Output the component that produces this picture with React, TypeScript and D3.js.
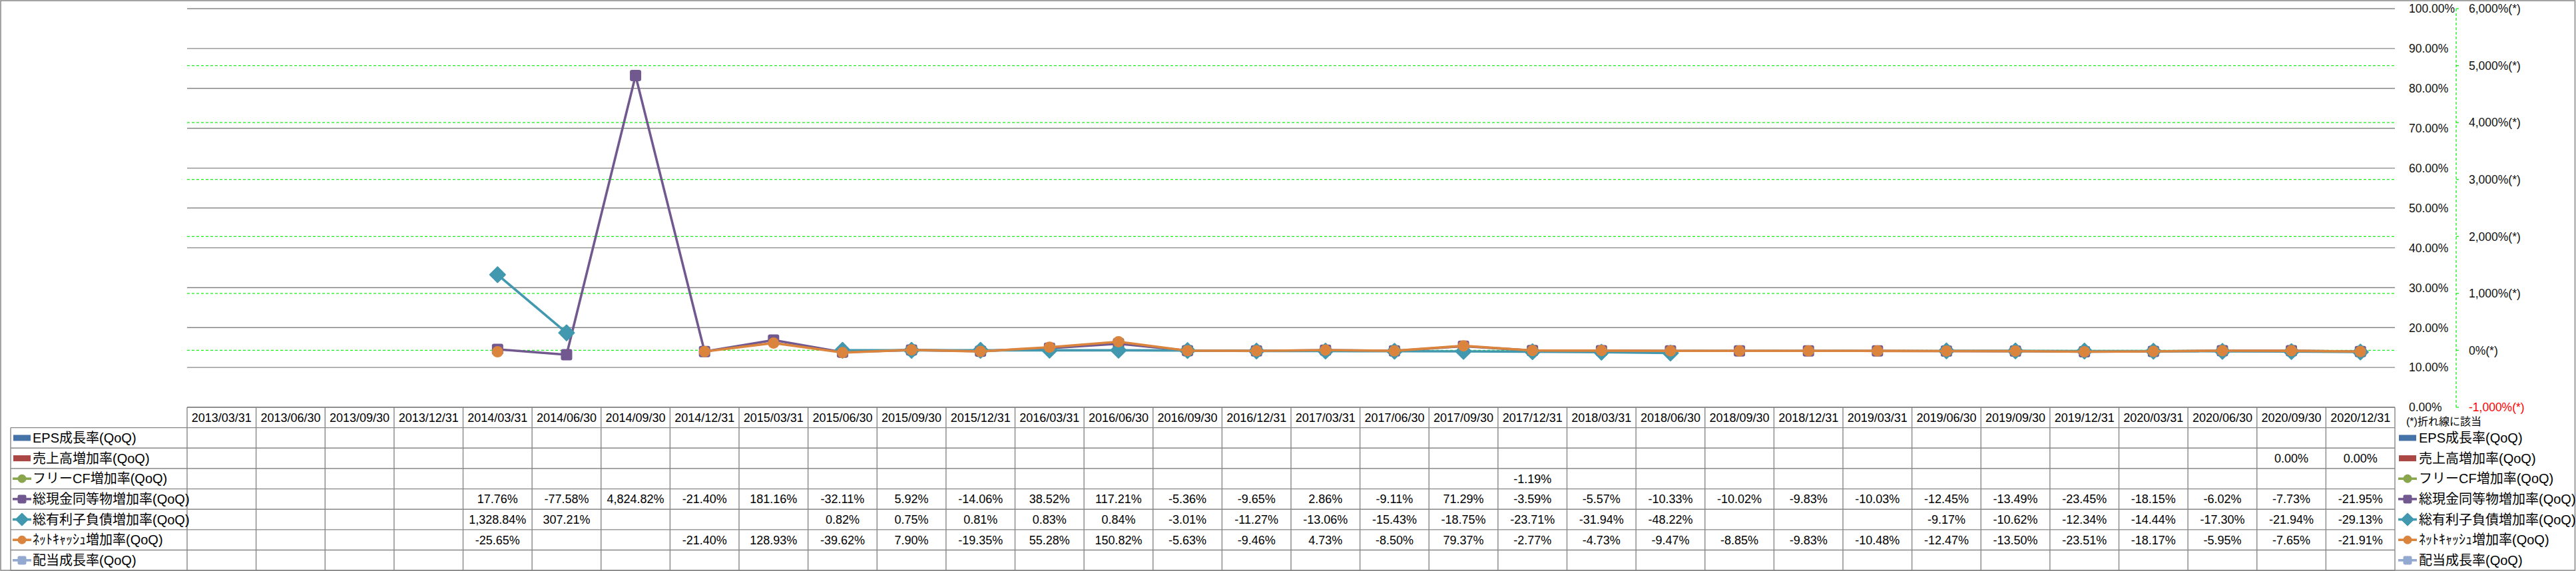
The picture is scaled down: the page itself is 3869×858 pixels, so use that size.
import { useEffect, useRef } from 'react';
import * as d3 from 'd3';

const W = 3869;
const H = 858;

// quarter labels along the bottom
const quarters = [
  '2013/03/31', '2013/06/30', '2013/09/30', '2013/12/31',
  '2014/03/31', '2014/06/30', '2014/09/30', '2014/12/31',
  '2015/03/31', '2015/06/30', '2015/09/30', '2015/12/31',
  '2016/03/31', '2016/06/30', '2016/09/30', '2016/12/31',
  '2017/03/31', '2017/06/30', '2017/09/30', '2017/12/31',
  '2018/03/31', '2018/06/30', '2018/09/30', '2018/12/31',
  '2019/03/31', '2019/06/30', '2019/09/30', '2019/12/31',
  '2020/03/31', '2020/06/30', '2020/09/30', '2020/12/31',
];

// growth rates in %, null = blank cell
const epsGrowth = [
  null, null, null, null, null, null, null, null,
  null, null, null, null, null, null, null, null,
  null, null, null, null, null, null, null, null,
  null, null, null, null, null, null, null, null,
];
const salesGrowth = [
  null, null, null, null, null, null, null, null,
  null, null, null, null, null, null, null, null,
  null, null, null, null, null, null, null, null,
  null, null, null, null, null, null, 0.0, 0.0,
];
const fcfGrowth = [
  null, null, null, null, null, null, null, null,
  null, null, null, null, null, null, null, null,
  null, null, null, -1.19, null, null, null, null,
  null, null, null, null, null, null, null, null,
];
const cashGrowth = [
  null, null, null, null, 17.76, -77.58, 4824.82, -21.40,
  181.16, -32.11, 5.92, -14.06, 38.52, 117.21, -5.36, -9.65,
  2.86, -9.11, 71.29, -3.59, -5.57, -10.33, -10.02, -9.83,
  -10.03, -12.45, -13.49, -23.45, -18.15, -6.02, -7.73, -21.95,
];
const debtGrowth = [
  null, null, null, null, 1328.84, 307.21, null, null,
  null, 0.82, 0.75, 0.81, 0.83, 0.84, -3.01, -11.27,
  -13.06, -15.43, -18.75, -23.71, -31.94, -48.22, null, null,
  null, -9.17, -10.62, -12.34, -14.44, -17.30, -21.94, -29.13,
];
const netCashGrowth = [
  null, null, null, null, -25.65, null, null, -21.40,
  128.93, -39.62, 7.90, -19.35, 55.28, 150.82, -5.63, -9.46,
  4.73, -8.50, 79.37, -2.77, -4.73, -9.47, -8.85, -9.83,
  -10.48, -12.47, -13.50, -23.51, -18.17, -5.95, -7.65, -21.91,
];
const dividendGrowth = [
  null, null, null, null, null, null, null, null,
  null, null, null, null, null, null, null, null,
  null, null, null, null, null, null, null, null,
  null, null, null, null, null, null, null, null,
];

const seriesNames = [
  'EPS成長率(QoQ)',
  '売上高増加率(QoQ)',
  'フリーCF増加率(QoQ)',
  '総現金同等物増加率(QoQ)',
  '総有利子負債増加率(QoQ)',
  'ﾈｯﾄｷｬｯｼｭ増加率(QoQ)',
  '配当成長率(QoQ)',
];

const primaryTicks = [0, 0.1, 0.2, 0.3, 0.4, 0.5, 0.6, 0.7, 0.8, 0.9, 1.0];
const secondaryTicks = [-1000, 0, 1000, 2000, 3000, 4000, 5000, 6000];

const FONT = '"Liberation Sans", Arial, "Noto Sans CJK JP", sans-serif';
const GRID = '#878787';
const LIME = '#19f019';

const loc = d3.formatLocale({ decimal: '.', thousands: ',', grouping: [3], currency: ['', ''], minus: '-' });
const cellFmt = (v) => loc.format(',.2f')(v) + '%';
const leftFmt = (v) => loc.format('.2f')(v * 100) + '%';
const rightFmt = (v) => loc.format(',')(v) + '%(*)';

const App = () => {
  const svgRef = useRef(null);

  useEffect(() => {
    const svg = d3.select(svgRef.current);
    svg.selectAll('*').remove();

    const series = [
      { name: seriesNames[0], values: epsGrowth, color: '#4572A7', kind: 'bar' },
      { name: seriesNames[1], values: salesGrowth, color: '#AA4643', kind: 'bar' },
      { name: seriesNames[2], values: fcfGrowth, color: '#89A54E', kind: 'circle' },
      { name: seriesNames[3], values: cashGrowth, color: '#71588F', kind: 'square' },
      { name: seriesNames[4], values: debtGrowth, color: '#4198AF', kind: 'diamond' },
      { name: seriesNames[5], values: netCashGrowth, color: '#DB843D', kind: 'circle' },
      { name: seriesNames[6], values: dividendGrowth, color: '#93A9CF', kind: 'square' },
    ];

    // plot frame
    const left = 281;
    const right = 3597;
    const top = 13;
    const bottom = 612;
    const rowH = 30.65;

    const x = d3.scaleBand().domain(quarters).range([left, right]);
    const yL = d3.scaleLinear().domain([0, 1]).range([bottom, top]);
    const yR = d3.scaleLinear().domain([-1000, 6000]).range([bottom, top]);

    // outer border
    svg.append('rect')
      .attr('x', 1).attr('y', 1)
      .attr('width', W - 2.5).attr('height', H - 2)
      .attr('fill', 'white')
      .attr('stroke', GRID).attr('stroke-width', 1.5);

    // primary gridlines
    svg.append('g')
      .selectAll('line')
      .data(primaryTicks)
      .join('line')
      .attr('x1', left).attr('x2', right)
      .attr('y1', d => yL(d)).attr('y2', d => yL(d))
      .attr('stroke', GRID).attr('stroke-width', 1.4);

    // secondary reference lines (green dashed)
    svg.append('g')
      .selectAll('line')
      .data(secondaryTicks.filter(d => d >= 0 && d < 6000))
      .join('line')
      .attr('x1', left).attr('x2', right)
      .attr('y1', d => yR(d)).attr('y2', d => yR(d))
      .attr('stroke', LIME).attr('stroke-width', 1.3)
      .attr('stroke-dasharray', '4,3');

    // primary axis labels
    svg.append('g')
      .selectAll('text')
      .data(primaryTicks)
      .join('text')
      .attr('x', 3618)
      .attr('y', d => yL(d))
      .attr('dy', '0.36em')
      .style('font-family', FONT)
      .style('font-size', '17.5px')
      .style('fill', '#111')
      .text(d => leftFmt(d));

    // secondary axis
    const axisX = 3689;
    svg.append('line')
      .attr('x1', axisX).attr('x2', axisX)
      .attr('y1', top).attr('y2', bottom)
      .attr('stroke', LIME).attr('stroke-width', 1.3)
      .attr('stroke-dasharray', '4,3');
    svg.append('g')
      .selectAll('line')
      .data(secondaryTicks)
      .join('line')
      .attr('x1', axisX).attr('x2', axisX + 4)
      .attr('y1', d => yR(d)).attr('y2', d => yR(d))
      .attr('stroke', LIME).attr('stroke-width', 1.3);
    svg.append('g')
      .selectAll('text')
      .data(secondaryTicks)
      .join('text')
      .attr('x', 3708)
      .attr('y', d => yR(d))
      .attr('dy', '0.36em')
      .style('font-family', FONT)
      .style('font-size', '17.5px')
      .style('fill', d => (d < 0 ? '#ff0000' : '#111'))
      .text(d => rightFmt(d));

    // marker helper
    const addMarker = (g, kind, cx, cy, size, color) => {
      if (kind === 'circle') {
        g.append('circle').attr('cx', cx).attr('cy', cy).attr('r', size / 2).attr('fill', color);
      } else if (kind === 'square') {
        g.append('rect')
          .attr('x', cx - size / 2).attr('y', cy - size / 2)
          .attr('width', size).attr('height', size)
          .attr('rx', size * 0.18)
          .attr('fill', color);
      } else if (kind === 'diamond') {
        const r = size * 0.68;
        g.append('path')
          .attr('d', `M${cx},${cy - r}L${cx + r},${cy}L${cx},${cy + r}L${cx - r},${cy}Z`)
          .attr('fill', color)
          .attr('stroke', color).attr('stroke-width', 2).attr('stroke-linejoin', 'round');
      }
    };

    const cx = d => x(d) + x.bandwidth() / 2;

    // zero-height columns for the bar series
    const barSeries = series.filter(s => s.kind === 'bar');
    const inner = d3.scaleBand().domain(barSeries.map(s => s.name)).range([0, x.bandwidth()]).padding(0.3);
    barSeries.forEach(s => {
      svg.append('g')
        .selectAll('rect')
        .data(quarters.map((q, i) => ({ q, v: s.values[i] })).filter(d => d.v != null))
        .join('rect')
        .attr('x', d => x(d.q) + inner(s.name))
        .attr('width', inner.bandwidth())
        .attr('y', d => Math.min(yL(d.v / 100), yL(0)))
        .attr('height', d => Math.abs(yL(0) - yL(d.v / 100)))
        .attr('fill', s.color);
    });

    // line series on the secondary axis
    series.filter(s => s.kind !== 'bar').forEach(s => {
      const pts = quarters.map((q, i) => ({ q, v: s.values[i] }));
      const g = svg.append('g');
      const line = d3.line()
        .defined(d => d.v != null)
        .x(d => cx(d.q))
        .y(d => yR(d.v));
      g.append('path')
        .datum(pts)
        .attr('d', line)
        .attr('fill', 'none')
        .attr('stroke', s.color)
        .attr('stroke-width', 3.6)
        .attr('stroke-linejoin', 'round');
      pts.filter(d => d.v != null).forEach(d => {
        addMarker(g, s.kind, cx(d.q), yR(d.v), 17, s.color);
      });
    });

    // data table
    const tableLeft = 16;
    const table = svg.append('g');
    const rowY = i => bottom + rowH * i;

    // horizontal rules
    table.append('line')
      .attr('x1', left).attr('x2', right)
      .attr('y1', rowY(0)).attr('y2', rowY(0))
      .attr('stroke', GRID).attr('stroke-width', 1.4);
    for (let i = 1; i <= series.length + 1; i++) {
      table.append('line')
        .attr('x1', tableLeft).attr('x2', right)
        .attr('y1', rowY(i)).attr('y2', rowY(i))
        .attr('stroke', GRID).attr('stroke-width', 1.4);
    }
    // vertical rules
    table.append('line')
      .attr('x1', tableLeft).attr('x2', tableLeft)
      .attr('y1', rowY(1)).attr('y2', rowY(series.length + 1))
      .attr('stroke', GRID).attr('stroke-width', 1.4);
    [...quarters.map(q => x(q)), right].forEach(vx => {
      table.append('line')
        .attr('x1', vx).attr('x2', vx)
        .attr('y1', rowY(0)).attr('y2', rowY(series.length + 1))
        .attr('stroke', GRID).attr('stroke-width', 1.4);
    });

    // header dates
    table.selectAll('text.date')
      .data(quarters)
      .join('text')
      .attr('class', 'date')
      .attr('x', d => cx(d))
      .attr('y', rowY(0) + rowH / 2)
      .attr('dy', '0.36em')
      .attr('text-anchor', 'middle')
      .style('font-family', FONT)
      .style('font-size', '18px')
      .text(d => d);

    const swatch = (g, s, sx, sy) => {
      if (s.kind === 'bar') {
        g.append('rect')
          .attr('x', sx).attr('y', sy - 4.5)
          .attr('width', 26).attr('height', 9)
          .attr('fill', s.color);
      } else {
        g.append('line')
          .attr('x1', sx - 1).attr('x2', sx + 27)
          .attr('y1', sy).attr('y2', sy)
          .attr('stroke', s.color).attr('stroke-width', 3.6);
        addMarker(g, s.kind, sx + 13, sy, 13, s.color);
      }
    };

    series.forEach((s, i) => {
      const cyRow = rowY(i + 1) + rowH / 2;
      swatch(table, s, 20, cyRow);
      table.append('text')
        .attr('x', 49)
        .attr('y', cyRow)
        .attr('dy', '0.36em')
        .style('font-family', FONT)
        .style('font-size', '20px')
        .text(s.name);
      quarters.forEach((q, j) => {
        const v = s.values[j];
        if (v == null) return;
        table.append('text')
          .attr('x', cx(q))
          .attr('y', cyRow)
          .attr('dy', '0.36em')
          .attr('text-anchor', 'middle')
          .style('font-family', FONT)
          .style('font-size', '18px')
          .text(cellFmt(v));
      });

      // right-hand legend
      swatch(svg, s, 3603, cyRow);
      svg.append('text')
        .attr('x', 3633)
        .attr('y', cyRow)
        .attr('dy', '0.36em')
        .style('font-family', FONT)
        .style('font-size', '20px')
        .text(s.name);
    });

    svg.append('text')
      .attr('x', 3614)
      .attr('y', 633)
      .attr('dy', '0.36em')
      .style('font-family', FONT)
      .style('font-size', '16px')
      .text('(*)折れ線に該当');
  }, []);

  return (
    <svg
      ref={svgRef}
      width={W}
      height={H}
      style={{ position: 'absolute', left: 0, top: 0, background: 'white' }}
    />
  );
};

export default App;
